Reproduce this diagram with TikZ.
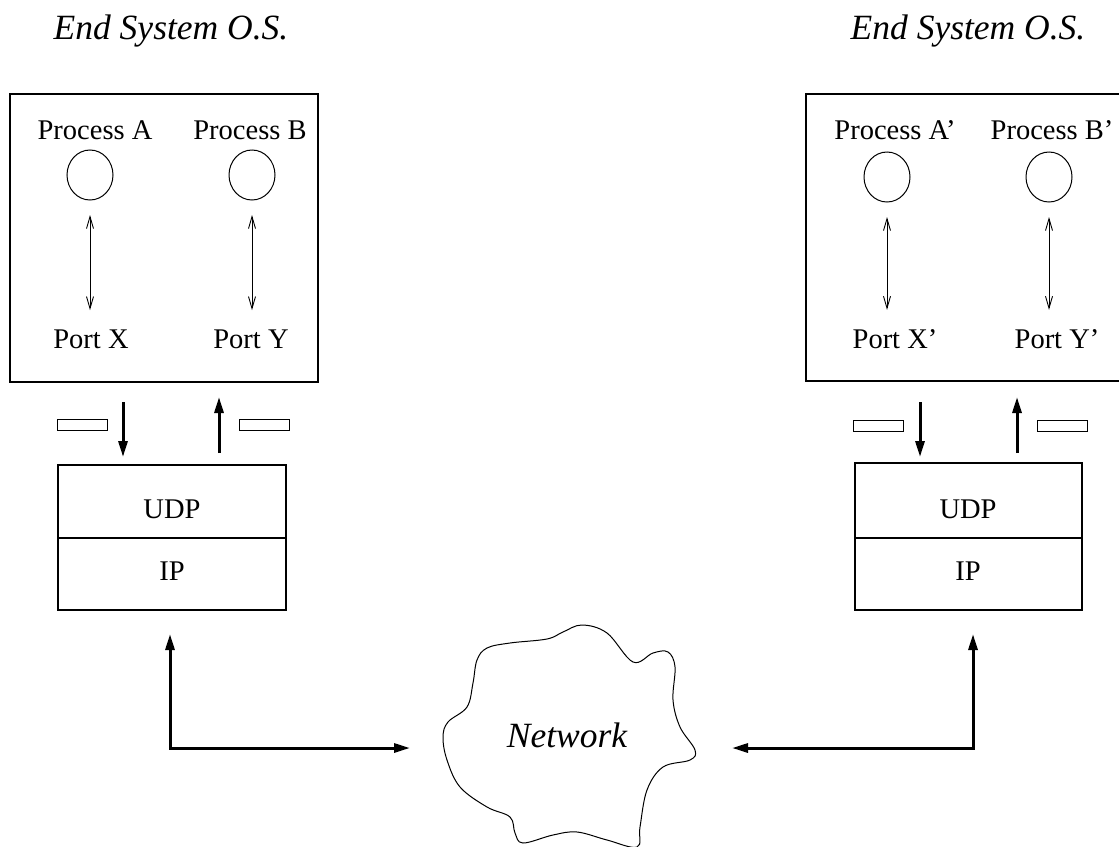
\documentclass[tikz,border=0pt]{standalone}
\usepackage{fontspec}
\setmainfont{Liberation Serif}
\usetikzlibrary{arrows.meta,shapes.geometric,calc}
\begin{document}
\begin{tikzpicture}[x=1pt,y=-1pt,
  box/.style={draw,line width=1.2pt,inner sep=0pt,outer sep=0pt,anchor=north west},
  pkt/.style={draw,line width=1pt,inner sep=0pt,outer sep=0pt,anchor=north west,minimum width=50pt,minimum height=11pt},
  proc/.style={draw,ellipse,line width=1pt,inner sep=0pt,outer sep=0pt,minimum width=46pt,minimum height=50pt},
  txt/.style={font=\fontsize{28.5pt}{31pt}\selectfont,inner sep=0pt,anchor=base},
  ittxt/.style={font=\fontsize{35.5pt}{38pt}\selectfont\itshape,inner sep=0pt,anchor=base},
  thinarr/.style={line width=0.9pt,{Straight Barb[length=12pt,width=7pt]}-{Straight Barb[length=12pt,width=7pt]},shorten <=15pt,shorten >=19pt},
  thickarr/.style={line width=3pt,-{Triangle[length=16pt,width=9pt]}},
  boththick/.style={line width=3pt,{Triangle[length=16pt,width=9pt]}-{Triangle[length=16pt,width=9pt]}}
]
\useasboundingbox (0,0) rectangle (1119,846);
\clip (0,0) rectangle (1119,846);

% titles
\node[ittxt] (titleL) at (171,39) {End System O.S.};
\node[ittxt] (titleR) at (968,39) {End System O.S.};

% OS boxes
\node[box,minimum width=308pt,minimum height=288pt] (osL) at (10,94) {};
\node[box,minimum width=340pt,minimum height=287pt] (osR) at (806,94) {};

% process labels
\node[txt] (lA) at (95,139) {Process A};
\node[txt] (lB) at (250,139) {Process B};
\node[txt] (lA2) at (895,139) {Process A'};
\node[txt] (lB2) at (1052,139) {Process B'};

% process circles
\node[proc] (cA) at (90,175) {};
\node[proc] (cB) at (252,175) {};
\node[proc] (cA2) at (887,177) {};
\node[proc] (cB2) at (1049,177) {};

% ports
\node[txt] (pX) at (91,348) {Port X};
\node[txt] (pY) at (251,348) {Port Y};
\node[txt] (pX2) at (895,348) {Port X'};
\node[txt] (pY2) at (1057,348) {Port Y'};

% process <-> port
\draw[thinarr] (cA.south) -- (cA.south |- pX.north);
\draw[thinarr] (cB.south) -- (cB.south |- pY.north);
\draw[thinarr] (cA2.south) -- (cA2.south |- pX2.north);
\draw[thinarr] (cB2.south) -- (cB2.south |- pY2.north);

% UDP / IP boxes
\node[box,minimum width=228pt,minimum height=73pt] (udpL) at (58,465) {};
\node[box,minimum width=228pt,minimum height=72pt] (ipL) at (58,538) {};
\node[box,minimum width=227pt,minimum height=75pt] (udpR) at (855,463) {};
\node[box,minimum width=227pt,minimum height=72pt] (ipR) at (855,538) {};
\node[txt] (tUL) at (172,518) {UDP};
\node[txt] (tIL) at (172,580) {IP};
\node[txt] (tUR) at (968,518) {UDP};
\node[txt] (tIR) at (968,580) {IP};

% packets
\node[pkt] (pk1) at (57,419) {};
\node[pkt] (pk2) at (239,419) {};
\node[pkt] (pk3) at (853,420) {};
\node[pkt] (pk4) at (1037,420) {};

% OS <-> UDP arrows
\draw[thickarr] ($(osL.south west)+(113,20)$) -- ($(udpL.north west)+(65,-8)$);
\draw[thickarr] ($(udpL.north west)+(161,-12)$) -- ($(osL.south west)+(209,15)$);
\draw[thickarr] ($(osR.south west)+(114,21)$) -- ($(udpR.north west)+(65,-6)$);
\draw[thickarr] ($(udpR.north west)+(162,-10)$) -- ($(osR.south west)+(211,16)$);

% network cloud
\draw[line width=1pt] plot[smooth cycle,tension=0.6] coordinates {
 (582,625) (563,632) (547,639) (510,643) (487,648) (477,660) (473,683) (467,707)
 (448,722) (443,737) (447,760) (460,787) (487,807) (510,817) (515,833) (523,843)
 (553,835) (577,832) (607,840) (637,847) (640,827) (647,790) (663,767) (690,760)
 (695,750) (680,727) (673,700) (675,667) (668,652) (653,653) (633,662) (607,633)};
\node[ittxt] (net) at (567,747) {Network};
\coordinate (cloudL) at (410,748);
\coordinate (cloudR) at (732,748);

% IP <-> network
\draw[boththick] ($(ipL.south west)+(112,24)$) |- (cloudL);
\draw[boththick] ($(ipR.south west)+(118,24)$) |- (cloudR);
\end{tikzpicture}
\end{document}
